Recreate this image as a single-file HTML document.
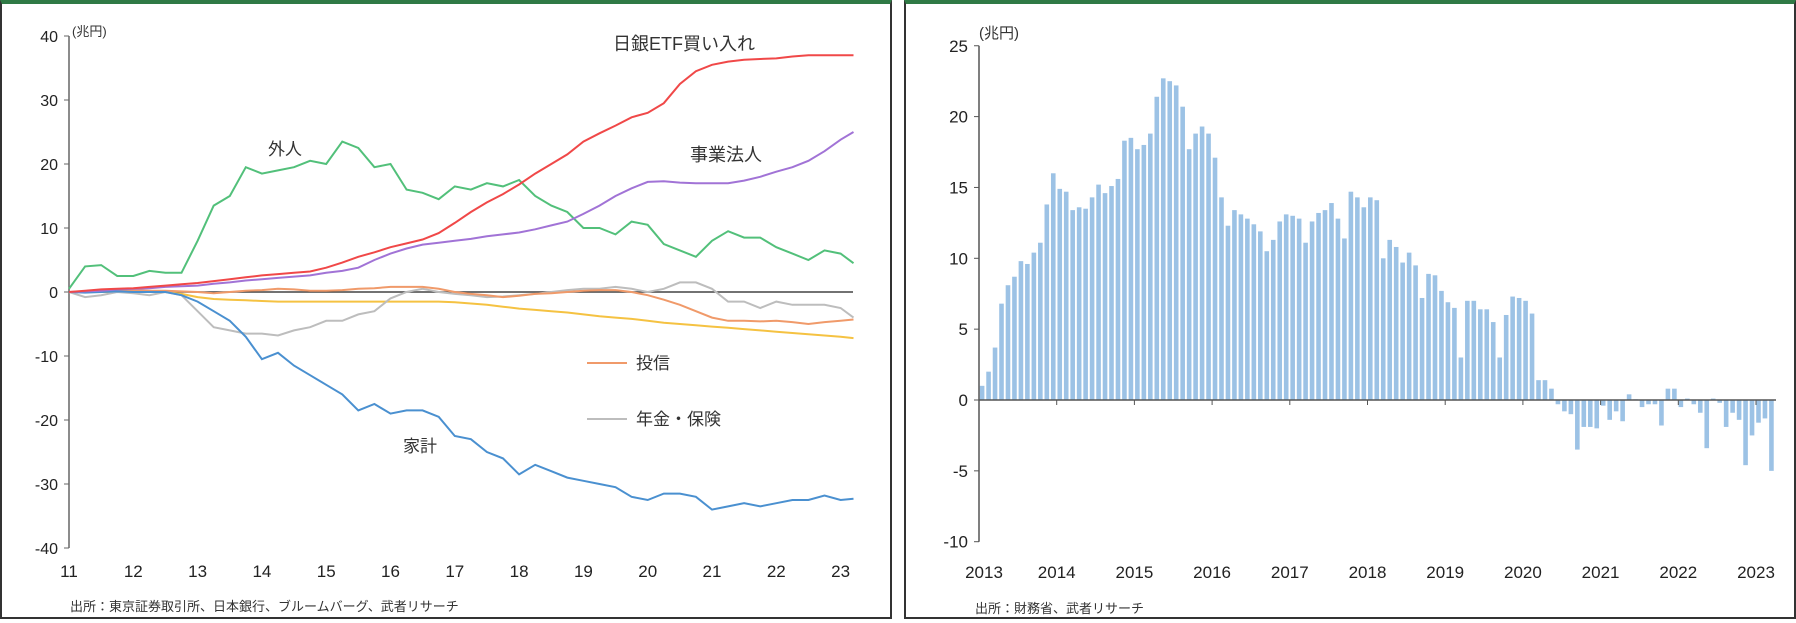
<!DOCTYPE html>
<html><head><meta charset="utf-8"><style>
body{margin:0;background:#fff;width:1796px;height:623px;overflow:hidden;font-family:"Liberation Sans","Noto Sans CJK JP",sans-serif}
.panel{position:absolute;top:0;height:619px;border:2px solid #333;border-top:4px solid #2f7a45;box-sizing:border-box}
svg{position:absolute;left:0;top:0}
text{font-family:"Liberation Sans","Noto Sans CJK JP",sans-serif}
</style></head><body>
<div class="panel" style="left:0;width:892px"></div>
<div class="panel" style="left:904px;width:892px"></div>
<svg id="c" width="1796" height="623"></svg>
<script>
const dates=[11,11.25,11.5,11.75,12,12.25,12.5,12.75,13,13.25,13.5,13.75,14,14.25,14.5,14.75,15,15.25,15.5,15.75,16,16.25,16.5,16.75,17,17.25,17.5,17.75,18,18.25,18.5,18.75,19,19.25,19.5,19.75,20,20.25,20.5,20.75,21,21.25,21.5,21.75,22,22.25,22.5,22.75,23,23.2];
const etf=[0,.2,.4,.5,.6,.8,1,1.2,1.4,1.7,2,2.3,2.6,2.8,3,3.2,3.8,4.6,5.5,6.2,7,7.6,8.2,9.2,10.8,12.5,14,15.3,16.8,18.5,20,21.5,23.5,24.8,26,27.3,28,29.5,32.5,34.5,35.5,36,36.3,36.4,36.5,36.8,37,37,37,37];
const corp=[0,.1,.2,.4,.5,.6,.8,.9,1,1.3,1.5,1.8,2,2.2,2.4,2.6,3,3.3,3.8,5,6,6.8,7.4,7.7,8,8.3,8.7,9,9.3,9.8,10.4,11,12.2,13.5,15,16.2,17.2,17.3,17.1,17,17,17,17.4,18,18.8,19.5,20.5,22,23.8,25];
const foreign=[.5,4,4.2,2.5,2.5,3.3,3,3,8,13.5,15,19.5,18.5,19,19.5,20.5,20,23.5,22.5,19.5,20,16,15.5,14.5,16.5,16,17,16.5,17.5,15,13.5,12.5,10,10,9,11,10.5,7.5,6.5,5.5,8,9.5,8.5,8.5,7,6,5,6.5,6,4.5];
const household=[0,-.1,0,.1,0,0,0,-.5,-1.5,-3,-4.5,-7,-10.5,-9.5,-11.5,-13,-14.5,-16,-18.5,-17.5,-19,-18.5,-18.5,-19.5,-22.5,-23,-25,-26,-28.5,-27,-28,-29,-29.5,-30,-30.5,-32,-32.5,-31.5,-31.5,-32,-34,-33.5,-33,-33.5,-33,-32.5,-32.5,-31.8,-32.5,-32.3];
const pension=[0,-.8,-.5,0,-.2,-.5,0,-.5,-3,-5.5,-6,-6.5,-6.5,-6.8,-6,-5.5,-4.5,-4.5,-3.5,-3,-1,0,.5,0,-.3,-.5,-.8,-.7,-.5,-.3,0,.3,.5,.5,.8,.5,0,.5,1.5,1.5,.5,-1.5,-1.5,-2.5,-1.5,-2,-2,-2,-2.5,-4];
const trusts=[0,0,.1,.2,.3,.2,.2,.1,0,-.2,0,.2,.3,.5,.4,.2,.2,.3,.5,.6,.8,.8,.8,.5,0,-.3,-.5,-.8,-.6,-.3,-.2,0,.2,.3,.3,0,-.5,-1.2,-2,-3,-4,-4.5,-4.5,-4.6,-4.5,-4.7,-5,-4.7,-4.5,-4.3];
const other=[0,0,0,0,0,0,0,-.3,-.8,-1.1,-1.2,-1.3,-1.4,-1.5,-1.5,-1.5,-1.5,-1.5,-1.5,-1.5,-1.5,-1.5,-1.5,-1.5,-1.6,-1.8,-2,-2.3,-2.6,-2.8,-3,-3.2,-3.5,-3.8,-4,-4.2,-4.5,-4.8,-5,-5.2,-5.4,-5.6,-5.8,-6,-6.2,-6.4,-6.6,-6.8,-7,-7.2];
const leftYTicks=[40,30,20,10,0,-10,-20,-30,-40];
const leftXTicks=[11,12,13,14,15,16,17,18,19,20,21,22,23];
const flows=[1.0,2.0,3.7,6.8,8.1,8.7,9.8,9.6,10.4,11.1,13.8,16.0,
14.9,14.7,13.4,13.6,13.5,14.3,15.2,14.6,15.1,15.6,18.3,18.5,
17.7,18.0,18.8,21.4,22.7,22.5,22.2,20.7,17.7,18.8,19.3,18.8,
17.1,14.3,12.3,13.4,13.1,12.8,12.4,11.9,10.5,11.3,12.6,13.1,
13.0,12.8,11.1,12.6,13.2,13.4,13.9,12.8,11.4,14.7,14.3,13.6,
14.3,14.1,10.0,11.3,10.8,9.7,10.4,9.5,7.2,8.9,8.8,7.7,
6.9,6.5,3.0,7.0,7.0,6.4,6.4,5.5,3.0,6.0,7.3,7.2,
7.0,6.1,1.4,1.4,0.8,-0.3,-0.8,-1.0,-3.5,-1.9,-1.9,-2.0,
-0.4,-1.4,-0.8,-1.5,0.4,0.05,-0.5,-0.3,-0.3,-1.8,0.8,0.8,
-0.5,0.1,-0.3,-0.9,-3.4,0.1,-0.2,-1.9,-0.9,-1.4,-4.6,-2.5,
-1.6,-1.3,-5.0];
const rightYTicks=[25,20,15,10,5,0,-5,-10];
const rightXTicks=[2013,2014,2015,2016,2017,2018,2019,2020,2021,2022,2023];

const svg=document.getElementById('c');const NS='http://www.w3.org/2000/svg';
function mk(t,a,txt){const e=document.createElementNS(NS,t);for(const k in a)e.setAttribute(k,a[k]);if(txt!==undefined)e.textContent=txt;svg.appendChild(e);return e;}
// left scales
const lx=v=>69+(v-11)*64.3, ly=v=>292-v*6.4;
let e=mk('line',{x1:69,y1:ly(40),x2:69,y2:ly(-40),stroke:'#666','stroke-width':1.5});

leftYTicks.forEach(v=>{mk('line',{x1:64,x2:69,y1:ly(v),y2:ly(v),stroke:'#666'});
 e=mk('text',{x:58,y:ly(v)+6,'text-anchor':'end','font-size':16,fill:'#222'},String(v));
 });
leftXTicks.forEach(v=>{e=mk('text',{x:lx(v),y:577,'text-anchor':'middle','font-size':17,fill:'#222'},String(v));
 });
e=mk('line',{x1:69,x2:853,y1:ly(0),y2:ly(0),stroke:'#444','stroke-width':1.5});

function line(arr,col,name){const d=arr.map((v,i)=>(i?'L':'M')+lx(dates[i]).toFixed(1)+' '+ly(v).toFixed(1)).join(' ');
 const p=mk('path',{d,fill:'none',stroke:col,'stroke-width':2});}
line(other,'#f5c242','line-other');
line(pension,'#bdbdbd','line-pension-insurance');
line(trusts,'#f09a6a','line-investment-trusts');
line(household,'#4a90d0','line-household');
line(foreign,'#52c07a','line-foreigners');
line(corp,'#a173d6','line-corporations');
line(etf,'#f04848','line-boj-etf');
function lbl(x,y,t,s,n){const q=mk('text',{x,y,'font-size':s,fill:'#333'},t);}
lbl(72,36,'(兆円)',13,'left-unit-label');
lbl(613,50,'日銀ETF買い入れ',18,'label-boj-etf');
lbl(268,155,'外人',17,'label-foreigners');
lbl(690,161,'事業法人',18,'label-corporations');
lbl(403,452,'家計',17,'label-household');
e=mk('line',{x1:587,x2:627,y1:363,y2:363,stroke:'#f09a6a','stroke-width':2});
lbl(636,369,'投信',17,'legend-trusts');
e=mk('line',{x1:587,x2:627,y1:419,y2:419,stroke:'#bdbdbd','stroke-width':2});
lbl(636,425,'年金・保険',17,'legend-pension');
lbl(70,611,'出所：東京証券取引所、日本銀行、ブルームバーグ、武者リサーチ',13,'left-source-note');
// right chart
const rx=i=>979+i*6.47, ry=v=>400-v*14.17;
flows.forEach((v,i)=>{const b=mk('rect',{x:rx(i)+0.8,y:Math.min(ry(v),ry(0)),width:4.6,height:Math.abs(ry(v)-ry(0)),fill:'#9cc2e5'});
 });
e=mk('line',{x1:979,y1:ry(25),x2:979,y2:ry(-10),stroke:'#555','stroke-width':1.5});

e=mk('line',{x1:979,x2:1776,y1:ry(0),y2:ry(0),stroke:'#555','stroke-width':1.5});

rightYTicks.forEach(v=>{mk('line',{x1:974,x2:979,y1:ry(v),y2:ry(v),stroke:'#555'});
 e=mk('text',{x:968,y:ry(v)+6,'text-anchor':'end','font-size':17,fill:'#222'},String(v));
 });
rightXTicks.forEach((v,i)=>{const x=979+i*77.7;if(i>0)mk('line',{x1:x,x2:x,y1:ry(0),y2:ry(0)+5,stroke:'#555'});
 e=mk('text',{x:x+(i==0?5:0),y:578,'text-anchor':'middle','font-size':17,fill:'#222'},String(v));
 });
lbl(979,38,'(兆円)',15,'right-unit-label');
lbl(975,613,'出所：財務省、武者リサーチ',13,'right-source-note');
</script></body></html>
